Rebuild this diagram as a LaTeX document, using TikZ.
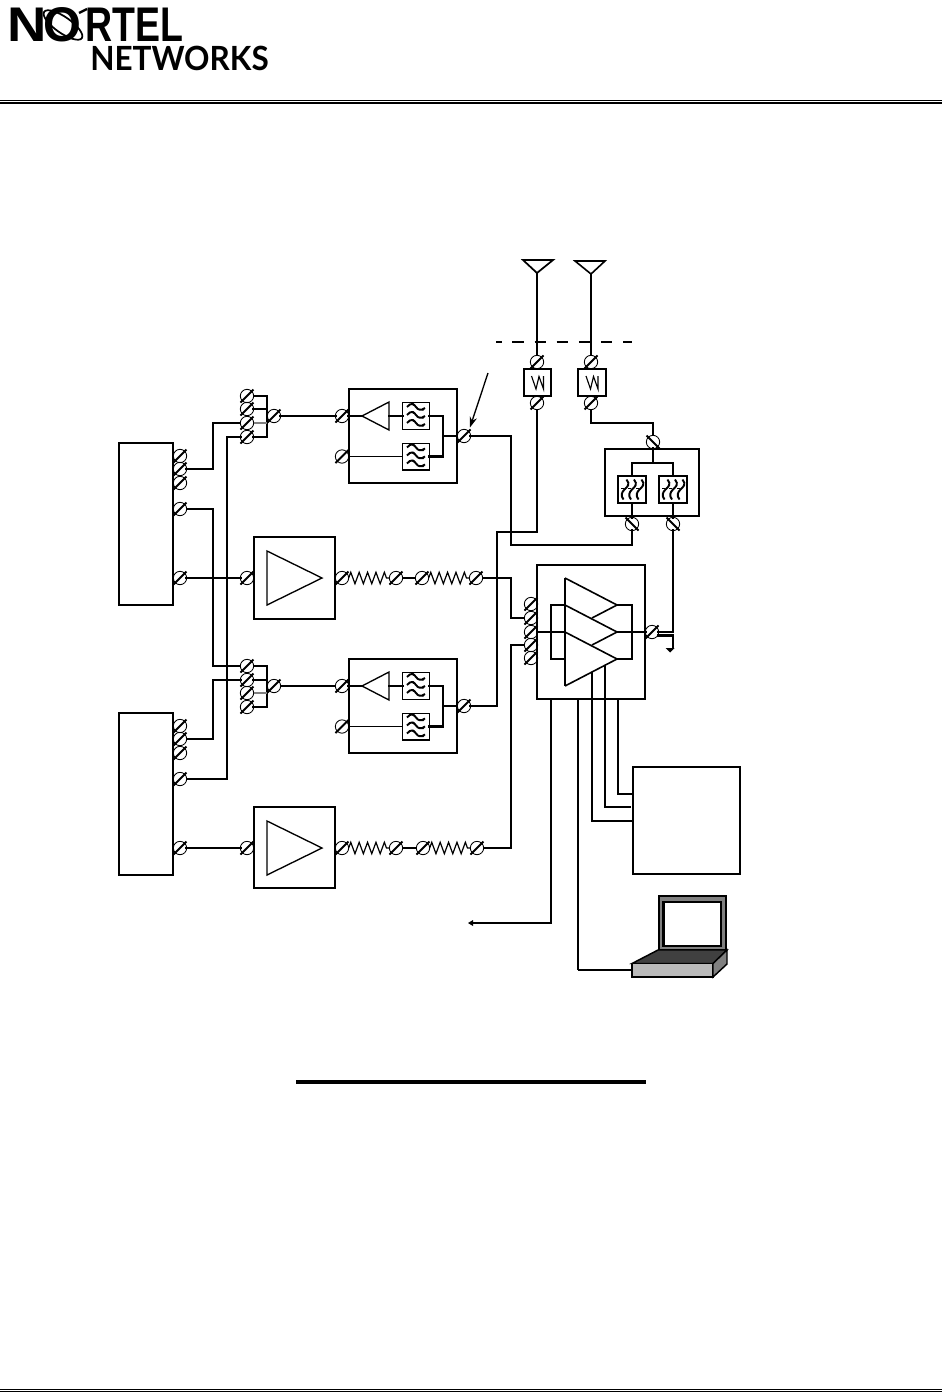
\documentclass[tikz,border=0pt]{standalone}
\usepackage{fontspec}
\setmainfont{Liberation Sans}
\newfontfamily\netfont{Lato}
\usetikzlibrary{decorations.pathmorphing,arrows.meta}
\tikzset{
  thinl/.style={line width=0.9pt},
  thickl/.style={line width=2pt,line cap=rect},
  conn/.style={circle,draw,line width=0.65pt,minimum size=10pt,inner sep=0pt,outer sep=0pt},
  slashl/.style={line width=1.4pt},
  boxa/.style={rectangle,draw,line width=1.6pt,inner sep=0pt,outer sep=0pt},
  boxb/.style={rectangle,draw,line width=0.9pt,inner sep=0pt,outer sep=0pt},
  filt/.style={rectangle,draw,line width=1pt,inner sep=0pt,outer sep=0pt,minimum size=20pt},
  resist/.style={line width=0.9pt,decorate,decoration={zigzag,segment length=6.3pt,amplitude=4.3pt}},
  amp/.style={line width=1pt,line join=miter},
  logotxt/.style={anchor=base west,inner sep=0pt,font=\bfseries\fontsize{36.5pt}{36.5pt}\selectfont,transform shape},
  filth/.pic={
    \foreach \d in {-8,0,8}{
      \draw[line width=1.45pt] (-9,\d-1) .. controls (-5,\d-6) and (-2,\d-4) .. (0,\d-1)
        .. controls (2,\d+2) and (5,\d+3) .. (9,\d);
      \fill (-2.5,\d-3.5) circle (1.4);
      \fill (7,\d+1.5) circle (1.4);
    }},
  filtv/.pic={
    \foreach \d in {-7.5,0,7.5}{
      \draw[line width=1.45pt] (\d+2,-10) .. controls (\d+6,-5) and (\d+3,-3) .. (\d,0)
        .. controls (\d-3,3) and (\d-4,6) .. (\d-1,10);
      \draw[line width=1.3pt] (\d-1,-1) -- (\d-4,-1);
    }},
  wsym/.pic={
    \draw[line width=0.85pt,line join=miter] (-6,-6.5) -- (-1.5,6.5) -- (1.5,-6) -- (6,6.5) -- (6,-6.5);
  }
}
\newcommand{\Cn}[3]{\node[conn] (#1) at (#2,#3) {};
  \draw[slashl] (#2-6.5,#3+6.5) -- (#2+6.5,#3-6.5);}
\newcommand{\Cb}[3]{\node[conn] (#1) at (#2,#3) {};
  \draw[slashl] (#2-6.5,#3-6.5) -- (#2+6.5,#3+6.5);}
\newcommand{\Bx}[6]{\node[#1,minimum width={(#5-#3)*0.75pt},minimum height={(#6-#4)*0.75pt}] (#2) at ({(#3+#5)/2},{(#4+#6)/2}) {};}
\begin{document}
\begin{tikzpicture}[x=0.75pt,y=-0.75pt]
\useasboundingbox (0,0) rectangle (942,1392);
\fill[white] (0,0) rectangle (942,1392);

% logo
\node[logotxt,xscale=1.12] (logoN) at (7,41) {N};
\node[logotxt] (logoO) at (43,41) {O};
\node[logotxt,xscale=0.77] (logoR) at (85,41) {RTEL};
\draw[line width=1.3pt,rotate around={-35:(63,25)}] (63,25) ellipse (23 and 8);
\draw[line width=1.8pt] (79,13) -- (87,9);
\node[anchor=base west,inner sep=0pt,font=\netfont\bfseries\fontsize{25pt}{25pt}\selectfont,xscale=0.945,transform shape,text height=17pt,text depth=0pt] (logoW) at (90,70) {NETWORKS};

% page rules
\draw[line width=0.75pt] (0,100) -- (942,100);
\draw[line width=1.5pt] (0,103) -- (942,103);
\draw[line width=0.85pt] (0,1389.8) -- (942,1389.8);
\draw[line width=0.85pt] (0,1391.6) -- (942,1391.6);
\draw[line width=2.3pt] (296,1082) -- (646,1082);

% boxes
\Bx{boxa}{radio1}{119}{443}{173}{605}
\Bx{boxa}{radio2}{119}{713}{173}{875}
\Bx{boxa}{dup1}{349}{389}{457}{483}
\Bx{boxa}{dup2}{349}{659}{457}{753}
\Bx{boxb}{pa1}{254}{537}{335}{619}
\Bx{boxb}{pa2}{254}{807}{335}{888}
\Bx{boxb}{mcpa}{537}{565}{645}{699}
\Bx{boxa}{wa}{524}{369}{551}{396}
\Bx{boxb}{wb}{578}{369}{606}{396}
\Bx{boxb}{fb}{605}{449}{699}{516}
\draw[line width=1.6pt] (605,516) -- (605,449) -- (699,449);
\Bx{boxa}{ctrl}{633}{767}{740}{874}

% filters
\node[filt] (f1a) at (416,416) {}; \pic at (f1a) {filth};
\node[filt] (f1b) at (416,456.5) {}; \pic at (f1b) {filth};
\node[filt] (f2a) at (416,686) {}; \pic at (f2a) {filth};
\node[filt] (f2b) at (416,726.5) {}; \pic at (f2b) {filth};
\node[filt,line width=1.5pt,minimum width=20.5pt] (f3a) at (632,489.5) {}; \pic at (f3a) {filtv};
\node[filt,line width=1.5pt,minimum width=20.5pt] (f3b) at (673,489.5) {}; \pic at (f3b) {filtv};
\pic at (wa) {wsym};
\pic at (wb) {wsym};

% connectors (round symbols)
\Cn{r1a}{180}{456}\Cn{r1b}{180}{469}\Cn{r1c}{180}{483}\Cn{r1d}{180}{509}\Cn{r1e}{180}{578}
\Cn{r2a}{180}{726}\Cn{r2b}{180}{739}\Cn{r2c}{180}{753}\Cn{r2d}{180}{779}\Cn{r2e}{180}{848}
\Cn{sa}{247}{396}\Cn{sb}{247}{409}\Cn{sc}{247}{423}\Cn{sd}{247}{437}\Cn{se}{274}{416}
\Cn{ta}{247}{666}\Cn{tb}{247}{680}\Cn{tc}{247}{693}\Cn{td}{247}{707}\Cn{te}{274}{686}
\Cn{d1a}{342}{416}\Cn{d1b}{342}{456.5}\Cn{d1o}{464}{436}
\Cn{d2a}{342}{686}\Cn{d2b}{342}{726.5}\Cn{d2o}{464}{706}
\Cn{p1i}{247}{578}\Cn{p1o}{342}{578}\Cn{p1m}{396}{578}\Cn{p1n}{422}{578}\Cn{p1e}{476}{578}
\Cn{p2i}{247}{848}\Cn{p2o}{342}{848}\Cn{p2m}{396}{848}\Cn{p2n}{423}{848}\Cn{p2e}{477}{848}
\Cn{ma}{531}{604}\Cn{mb}{531}{618}\Cn{mc}{531}{632}\Cn{md}{531}{645}\Cn{me}{531}{658}
\Cn{mo}{652}{632}
\Cn{wat}{537}{362}\Cn{wab}{537}{403}\Cn{wbt}{591}{362}\Cn{wbb}{591}{403}
\Cb{ft}{653}{442}\Cb{fa}{632}{524}\Cb{fc}{673}{524}

% resistors
\draw[resist] (p1o.east) -- (p1m.west);
\draw[resist] (p1n.east) -- (p1e.west);
\draw[resist] (p2o.east) -- (p2m.west);
\draw[resist] (p2n.east) -- (p2e.west);
\draw[thinl] (p1m.east) -- (p1n.west);
\draw[thinl] (p2m.east) -- (p2n.west);

% amplifier triangles
\draw[amp] (267,551) -- (322,578) -- (267,605) -- cycle;
\draw[amp] (267,821) -- (322,848) -- (267,875) -- cycle;
\draw[amp] (389,402) -- (362,416) -- (389,430) -- cycle;
\draw[amp] (389,672) -- (362,686) -- (389,700) -- cycle;
\draw[line width=1.2pt] (565,578) -- (617,605) -- (592,618);
\draw[line width=1.2pt] (565,605) -- (617,632) -- (592,645);
\draw[line width=1.2pt] (565,632) -- (617,659) -- (565,686);
\draw[line width=1.8pt] (565,578) -- (565,686);

% antennas
\draw[line width=1.3pt] (523,260) -- (553,260) -- (537,273) -- cycle;
\draw[line width=1.2pt] (575,261) -- (605,261) -- (591,274) -- cycle;
\coordinate (ant1) at (537,273);
\coordinate (ant2) at (591,274);
\draw[thinl] (ant1) -- (wat.north);
\draw[thinl] (ant2) -- (wbt.north);
\draw[line width=0.8pt,dash pattern=on 8.6pt off 8pt,dash phase=4.3pt] (496,342) -- (632,342);

% left radios to splitters
\coordinate (a1) at (213,469);
\coordinate (a2) at (213,423);
\draw[thickl] (r1b.east) -- (a1);
\draw[thinl] (a1) -- (a2) -- (sc.west);
\draw[thinl] (r1d.east) -- (213,509) -- (213,666) -- (ta.west);
\coordinate (b1) at (213,739);
\coordinate (b2) at (213,680);
\draw[thinl] (r2b.east) -- (b1) -- (b2);
\draw[thickl] (b2) -- (tb.west);
\coordinate (c1) at (227,437);
\coordinate (c2) at (227,779);
\draw[thickl] (sd.west) -- (c1) -- (c2);
\draw[thinl] (c2) -- (r2d.east);
\draw[thickl] (r1e.east) -- (p1i.west);
\draw[thickl] (r2e.east) -- (p2i.west);

% splitter brackets
\draw[thinl] (sa.east) -- (267,396) -- (267,437);
\draw[thickl] (sb.east) -- (267,409);
\draw[thinl,gray] (sc.east) -- (267,423);
\draw[thickl] (sd.east) -- (267,437);
\draw[thinl] (ta.east) -- (267,666) -- (267,707);
\draw[thickl] (tb.east) -- (267,680);
\draw[thinl,gray] (tc.east) -- (267,693);
\draw[thickl] (td.east) -- (267,707);
\draw[thickl] (se.east) -- (d1a.west);
\draw[thinl] (te.east) -- (d2a.west);

% inside duplexers
\draw[thickl] (d1a.east) -- (362,416);
\draw[thickl] (389,416) -- (f1a.west);
\draw[thickl] (f1a.east) -- (443,416) -- (443,456.5) -- (f1b.east);
\draw[thinl] (d1b.east) -- (f1b.west);
\draw[thinl] (443,436) -- (d1o.west);
\draw[thickl] (d2a.east) -- (362,686);
\draw[thickl] (389,686) -- (f2a.west);
\draw[thickl] (f2a.east) -- (443,686) -- (443,726.5) -- (f2b.east);
\draw[thinl] (d2b.east) -- (f2b.west);
\draw[thinl] (443,706) -- (d2o.west);

% duplexer outputs
\coordinate (e1) at (511,436);
\coordinate (e2) at (511,545);
\draw[thickl] (d1o.east) -- (e1);
\draw[thinl] (e1) -- (e2);
\draw[thickl] (e2) -- (632,545) -- (fa.south);
\coordinate (g1) at (497,706);
\coordinate (g2) at (497,532);
\draw[thickl] (d2o.east) -- (g1) -- (g2);
\draw[thinl] (g2) -- (537,532) -- (wab.south);
\draw[thinl] (wbb.south) -- (591,423) -- (653,423) -- (ft.north);

% filter box internals
\draw[thickl] (ft.south) -- (653,463);
\draw[line width=1.6pt] (f3a.north) -- (632,463) -- (673,463) -- (f3b.north);
\draw[thickl] (f3a.south) -- (fa.north);
\draw[thickl] (f3b.south) -- (fc.north);

% power amps to combiner
\draw[thinl] (p1e.east) -- (511,578) -- (511,618) -- (mb.west);
\draw[thinl] (p2e.east) -- (511,848) -- (511,645) -- (md.west);
\draw[thickl] (mc.east) -- (565,632);
\draw[thickl] (565,605) -- (551,605) -- (551,659) -- (565,659);
\draw[thickl] (617,605) -- (632,605) -- (632,659) -- (617,659);
\draw[thickl] (617,632) -- (mo.west);

% output
\coordinate (h1) at (673,632);
\draw[thickl] (mo.east) -- (h1) -- (fc.south);
\draw[thickl] (658,635.5) -- (673,635.5) -- (673,647);
\fill (665.5,648) -- (674.5,648) -- (670,652.5) -- cycle;

% lines down from combiner
\coordinate (k1) at (551,923);
\coordinate (k2) at (473,923);
\draw[thickl] (551,699) -- (k1);
\draw[line width=1.2pt] (k1) -- (k2);
\fill (473,920) -- (473,926) -- (468,923) -- cycle;
\coordinate (m1) at (578,970);
\draw[thinl] (578,699) -- (m1);
\draw[line width=1.4pt] (m1) -- (632,970);
\draw[thinl] (592,672) -- (592,821);
\draw[thickl] (592,821) -- (631,821);
\draw[thickl] (605,666) -- (605,807);
\draw[thinl] (605,807) -- (631,807);
\draw[thinl] (618,699) -- (618,794);
\draw[thickl] (618,794) -- (631,794);

% pointer arrow
\coordinate (ptr) at (488,373);
\draw[line width=1pt,-{Stealth[length=8pt,width=5.5pt]},shorten >=3pt] (ptr) -- (d1o.north east);

% laptop
\draw[line width=1.4pt,fill=black!50] (659,896) rectangle (726,950);
\draw[line width=1.6pt,fill=white] (663.5,902) rectangle (721,946);
\draw[line width=1.1pt,fill=black!75] (632,963.5) -- (658,950) -- (727,950) -- (713,963.5) -- cycle;
\draw[line width=1.4pt,fill=black!27] (632,963.5) rectangle (713,977);
\draw[line width=1.1pt,fill=black!50] (713,963.5) -- (727,950) -- (727,964) -- (713,977) -- cycle;
\end{tikzpicture}
\end{document}
